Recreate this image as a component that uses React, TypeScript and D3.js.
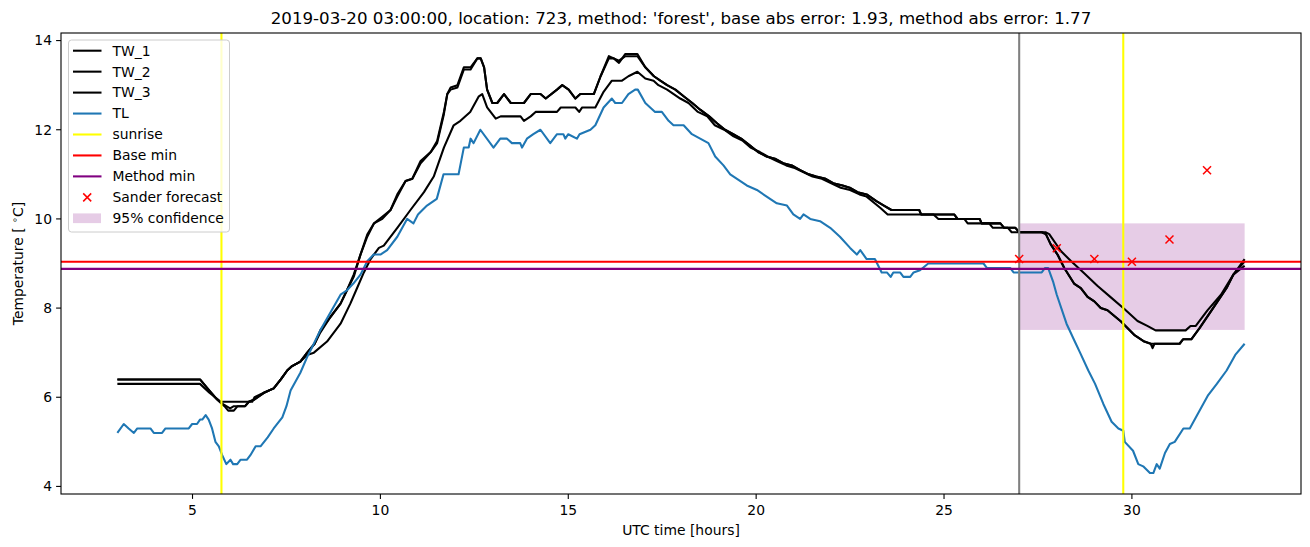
import React from 'react';
import * as d3 from 'd3';

type P = [number, number];

const TW_1: P[] = [[3.0,6.4],[5.2,6.4],[5.45,6.15],[5.65,5.95],[5.85,5.8],[5.95,5.7],[6.1,5.7],[6.2,5.8],[6.4,5.8],[6.5,5.9],[6.65,5.95],[6.9,6.1],[7.16,6.2],[7.35,6.4],[7.52,6.6],[7.65,6.7],[7.87,6.8],[8.05,7.0],[8.25,7.2],[8.4,7.5],[8.67,7.8],[8.94,8.1],[9.11,8.4],[9.29,8.75],[9.47,9.2],[9.65,9.65],[9.83,9.9],[10.05,10.05],[10.27,10.2],[10.45,10.55],[10.67,10.85],[10.85,10.9],[11.07,11.3],[11.34,11.5],[11.51,11.75],[11.69,12.4],[11.78,12.8],[11.87,12.95],[12.05,13.0],[12.22,13.4],[12.4,13.4],[12.58,13.6],[12.67,13.6],[12.76,13.4],[12.84,12.9],[12.98,12.6],[13.11,12.6],[13.29,12.8],[13.47,12.6],[13.82,12.6],[14.0,12.8],[14.26,12.8],[14.4,12.7],[14.7,12.9],[14.84,13.0],[15.01,12.9],[15.19,12.7],[15.32,12.8],[15.68,12.8],[15.86,13.2],[16.08,13.65],[16.21,13.6],[16.35,13.5],[16.52,13.7],[16.84,13.7],[17.05,13.4],[17.28,13.2],[17.45,13.1],[17.63,13.0],[17.85,12.9],[18.07,12.75],[18.3,12.6],[18.51,12.45],[18.75,12.3],[18.95,12.15],[19.17,12.0],[19.39,11.9],[19.6,11.8],[19.83,11.65],[20.05,11.5],[20.28,11.4],[20.5,11.35],[20.72,11.25],[20.95,11.2],[21.16,11.1],[21.4,11.0],[21.6,10.95],[21.85,10.9],[22.05,10.8],[22.3,10.75],[22.49,10.7],[22.7,10.6],[22.94,10.55],[23.2,10.4],[23.4,10.3],[23.6,10.2],[24.34,10.2],[24.39,10.1],[25.27,10.1],[25.36,10.0],[25.95,10.0],[26.0,9.9],[26.5,9.9],[26.6,9.8],[26.9,9.8],[27.0,9.7],[27.6,9.7],[27.71,9.66],[27.84,9.43],[28.02,9.2],[28.2,8.9],[28.46,8.55],[28.64,8.45],[28.82,8.25],[29.0,8.15],[29.17,8.0],[29.35,7.95],[29.71,7.7],[30.06,7.4],[30.33,7.25],[30.5,7.2],[30.55,7.1],[30.6,7.2],[31.27,7.2],[31.36,7.3],[31.58,7.3],[31.8,7.55],[32.16,8.0],[32.52,8.45],[32.7,8.75],[33.0,9.1]];

const TW_2: P[] = [[3.0,6.4],[5.2,6.4],[5.4,6.2],[5.6,6.0],[5.8,5.85],[5.9,5.8],[6.0,5.75],[6.1,5.8],[6.4,5.8],[6.5,5.9],[6.65,5.95],[6.9,6.1],[7.16,6.2],[7.35,6.4],[7.52,6.6],[7.65,6.7],[7.87,6.8],[8.05,7.0],[8.25,7.2],[8.4,7.45],[8.67,7.8],[8.94,8.1],[9.11,8.4],[9.29,8.7],[9.47,9.2],[9.65,9.6],[9.83,9.9],[10.05,10.0],[10.27,10.2],[10.45,10.5],[10.67,10.85],[10.85,10.9],[11.07,11.25],[11.34,11.5],[11.51,11.7],[11.69,12.35],[11.78,12.8],[11.87,12.9],[12.05,12.95],[12.22,13.35],[12.4,13.35],[12.58,13.6],[12.67,13.6],[12.76,13.4],[12.84,12.9],[12.98,12.6],[13.11,12.6],[13.29,12.8],[13.47,12.6],[13.82,12.6],[14.0,12.8],[14.26,12.8],[14.4,12.7],[14.7,12.9],[14.84,13.0],[15.01,12.9],[15.19,12.7],[15.32,12.8],[15.68,12.8],[15.86,13.2],[16.08,13.6],[16.21,13.6],[16.35,13.55],[16.52,13.65],[16.84,13.65],[17.05,13.4],[17.28,13.2],[17.45,13.1],[17.63,13.0],[17.85,12.9],[18.07,12.75],[18.3,12.6],[18.51,12.45],[18.75,12.3],[18.95,12.15],[19.17,12.0],[19.39,11.9],[19.6,11.8],[19.83,11.65],[20.05,11.5],[20.28,11.4],[20.5,11.35],[20.72,11.25],[20.95,11.2],[21.16,11.1],[21.4,11.0],[21.6,10.95],[21.85,10.9],[22.05,10.8],[22.3,10.75],[22.49,10.7],[22.7,10.6],[22.94,10.55],[23.2,10.4],[23.4,10.3],[23.6,10.2],[24.34,10.2],[24.39,10.1],[25.27,10.1],[25.36,10.0],[25.95,10.0],[26.0,9.9],[26.5,9.9],[26.6,9.8],[26.9,9.8],[27.0,9.7],[27.6,9.7],[27.71,9.66],[27.84,9.43],[28.02,9.2],[28.2,8.9],[28.46,8.55],[28.64,8.45],[28.82,8.25],[29.0,8.15],[29.17,8.0],[29.35,7.95],[29.71,7.7],[30.06,7.4],[30.33,7.25],[30.5,7.2],[31.27,7.2],[31.36,7.3],[31.58,7.3],[31.8,7.55],[32.16,8.0],[32.52,8.45],[32.7,8.75],[33.0,9.05]];

const TW_3: P[] = [[3.0,6.3],[5.2,6.3],[5.45,6.1],[5.75,5.9],[6.59,5.9],[6.65,6.0],[6.9,6.1],[7.16,6.2],[7.35,6.4],[7.52,6.6],[7.65,6.7],[7.87,6.8],[8.05,6.95],[8.23,7.0],[8.58,7.25],[8.94,7.65],[9.2,8.1],[9.38,8.45],[9.56,8.8],[9.74,9.1],[9.96,9.35],[10.09,9.4],[10.45,9.8],[10.8,10.2],[11.16,10.6],[11.42,10.95],[11.69,11.6],[11.95,12.1],[12.13,12.2],[12.39,12.4],[12.62,12.75],[12.71,12.8],[12.84,12.5],[13.07,12.25],[13.2,12.3],[13.73,12.3],[13.82,12.2],[14.0,12.3],[14.13,12.4],[14.7,12.4],[14.8,12.5],[15.19,12.5],[15.29,12.4],[15.37,12.5],[15.72,12.5],[15.94,12.85],[16.16,13.1],[16.43,13.1],[16.6,13.2],[16.84,13.3],[17.05,13.15],[17.27,13.1],[17.4,13.0],[17.63,12.9],[17.98,12.7],[18.2,12.6],[18.45,12.4],[18.7,12.3],[18.9,12.1],[19.15,12.0],[19.4,11.85],[19.65,11.75],[19.85,11.6],[20.1,11.5],[20.3,11.4],[20.55,11.3],[20.8,11.2],[21.0,11.15],[21.25,11.05],[21.5,10.95],[21.75,10.9],[22.0,10.8],[22.25,10.7],[22.5,10.65],[22.75,10.55],[22.94,10.5],[23.3,10.25],[23.5,10.1],[24.72,10.1],[24.85,10.0],[25.54,10.0],[25.63,9.9],[26.2,9.9],[26.3,9.8],[26.7,9.8],[26.8,9.7],[27.7,9.7],[27.8,9.66],[28.11,9.28],[28.37,9.06],[28.73,8.78],[29.08,8.5],[29.44,8.24],[29.8,7.98],[30.15,7.71],[30.41,7.6],[30.63,7.5],[31.43,7.5],[31.56,7.6],[31.7,7.6],[32.01,7.95],[32.37,8.3],[32.7,8.75],[33.0,8.95]];

const TL: P[] = [[3.0,5.2],[3.17,5.4],[3.3,5.3],[3.44,5.2],[3.53,5.3],[3.88,5.3],[3.97,5.2],[4.19,5.2],[4.28,5.3],[4.9,5.3],[4.99,5.4],[5.12,5.4],[5.2,5.5],[5.26,5.5],[5.35,5.6],[5.43,5.5],[5.52,5.3],[5.61,5.0],[5.7,4.9],[5.79,4.7],[5.9,4.5],[6.01,4.6],[6.08,4.5],[6.19,4.5],[6.28,4.6],[6.45,4.6],[6.54,4.7],[6.68,4.9],[6.81,4.9],[7.0,5.1],[7.16,5.3],[7.39,5.55],[7.5,5.8],[7.61,6.15],[7.87,6.55],[8.05,6.9],[8.14,7.05],[8.4,7.5],[8.67,7.9],[8.94,8.3],[9.11,8.4],[9.28,8.55],[9.47,8.75],[9.65,9.05],[9.82,9.2],[10.0,9.2],[10.18,9.3],[10.45,9.6],[10.71,10.0],[10.88,9.9],[11.0,10.1],[11.24,10.3],[11.5,10.45],[11.68,11.0],[12.08,11.0],[12.22,11.6],[12.35,11.6],[12.4,11.8],[12.48,11.7],[12.66,12.0],[13.01,11.6],[13.19,11.8],[13.37,11.8],[13.5,11.7],[13.72,11.7],[13.77,11.6],[13.9,11.8],[14.07,11.9],[14.26,12.0],[14.52,11.7],[14.7,11.9],[14.87,11.9],[14.92,11.8],[15.0,11.9],[15.23,11.8],[15.3,11.9],[15.59,12.0],[15.72,12.1],[15.94,12.5],[16.16,12.7],[16.25,12.6],[16.43,12.6],[16.6,12.8],[16.78,12.9],[16.85,12.9],[17.05,12.6],[17.31,12.4],[17.49,12.4],[17.67,12.2],[17.8,12.1],[18.07,12.1],[18.29,11.9],[18.51,11.8],[18.73,11.7],[18.91,11.4],[19.13,11.2],[19.31,11.0],[19.49,10.9],[19.75,10.75],[20.02,10.65],[20.28,10.5],[20.55,10.35],[20.82,10.3],[20.99,10.1],[21.17,10.0],[21.26,10.1],[21.44,10.0],[21.7,9.95],[21.97,9.8],[22.23,9.6],[22.5,9.35],[22.68,9.2],[22.77,9.3],[22.94,9.1],[23.16,9.1],[23.34,8.8],[23.48,8.8],[23.58,8.7],[23.65,8.8],[23.83,8.8],[23.92,8.7],[24.1,8.7],[24.19,8.8],[24.36,8.85],[24.58,9.0],[26.05,9.0],[26.14,8.9],[26.76,8.9],[26.85,8.8],[27.6,8.8],[27.69,8.9],[27.77,8.9],[27.9,8.6],[28.0,8.3],[28.26,7.65],[28.48,7.25],[28.62,7.0],[28.84,6.6],[29.02,6.3],[29.24,5.85],[29.46,5.45],[29.64,5.3],[29.77,5.25],[29.81,5.0],[30.03,4.8],[30.17,4.5],[30.3,4.45],[30.48,4.3],[30.57,4.3],[30.66,4.5],[30.74,4.4],[30.88,4.75],[31.01,4.95],[31.14,5.0],[31.37,5.3],[31.54,5.3],[31.77,5.65],[32.03,6.05],[32.26,6.3],[32.52,6.6],[32.75,6.95],[33.0,7.2]];

const SUNRISE: number[] = [5.77, 29.77];
const FORECAST_START = 27.0;
const BASE_MIN = 9.04;
const METHOD_MIN = 8.88;
const FORECAST_T: number[] = [27, 28, 29, 30, 31, 32];
const FORECAST_V: number[] = [9.1, 9.34, 9.1, 9.04, 9.54, 11.09];
const CONF_T: number[] = [27, 33];
const CONF_LO = 7.51;
const CONF_HI = 9.9;
const X_TICKS: number[] = [5, 10, 15, 20, 25, 30];
const Y_TICKS: number[] = [4, 6, 8, 10, 12, 14];
const TITLE = "2019-03-20 03:00:00, location: 723, method: 'forest', base abs error: 1.93, method abs error: 1.77";

const W = 1310, H = 547;
const L = 61, R = 1301, T = 33, B = 494;
const FONT = 'DejaVu Sans, sans-serif';

export default function App() {
  const x = d3.scaleLinear().domain([1.5, 34.5]).range([L, R]);
  const y = d3.scaleLinear().domain([3.83, 14.17]).range([B, T]);
  const line = d3.line<P>().x(d => x(d[0])).y(d => y(d[1]));
  const lw = 2.08;

  const legendItems = [
    { label: 'TW_1', kind: 'line', color: '#000000' },
    { label: 'TW_2', kind: 'line', color: '#000000' },
    { label: 'TW_3', kind: 'line', color: '#000000' },
    { label: 'TL', kind: 'line', color: '#1f77b4' },
    { label: 'sunrise', kind: 'line', color: '#ffff00' },
    { label: 'Base min', kind: 'line', color: '#ff0000' },
    { label: 'Method min', kind: 'line', color: '#800080' },
    { label: 'Sander forecast', kind: 'x', color: '#ff0000' },
    { label: '95% confidence', kind: 'patch', color: 'rgba(128,0,128,0.2)' },
  ];

  const xMark = (cx: number, cy: number, k: string) => (
    <g key={k}>
      <line x1={cx - 4} y1={cy - 4} x2={cx + 4} y2={cy + 4} stroke="#ff0000" strokeWidth={1.5} />
      <line x1={cx - 4} y1={cy + 4} x2={cx + 4} y2={cy - 4} stroke="#ff0000" strokeWidth={1.5} />
    </g>
  );

  return (
    <svg width={W} height={H} style={{ position: 'absolute', left: 0, top: 0, background: '#fff' }} fontFamily={FONT}>
      <rect x={0} y={0} width={W} height={H} fill="#ffffff" />
      <defs>
        <clipPath id="plot"><rect x={L} y={T} width={R - L} height={B - T} /></clipPath>
      </defs>
      <g clipPath="url(#plot)">
        <rect x={x(CONF_T[0])} y={y(CONF_HI)} width={x(CONF_T[1]) - x(CONF_T[0])} height={y(CONF_LO) - y(CONF_HI)} fill="rgba(128,0,128,0.2)" />
        {[TW_1, TW_2, TW_3].map((s, i) => (
          <path key={i} d={line(s) || ''} fill="none" stroke="#000" strokeWidth={lw} strokeLinejoin="round" />
        ))}
        <path d={line(TL) || ''} fill="none" stroke="#1f77b4" strokeWidth={lw} strokeLinejoin="round" />
        {SUNRISE.map((t, i) => (
          <line key={i} x1={x(t)} x2={x(t)} y1={T} y2={B} stroke="#ffff00" strokeWidth={lw} />
        ))}
        <line x1={x(FORECAST_START)} x2={x(FORECAST_START)} y1={T} y2={B} stroke="#808080" strokeWidth={lw} />
        <line x1={L} x2={R} y1={y(BASE_MIN)} y2={y(BASE_MIN)} stroke="#ff0000" strokeWidth={lw} />
        <line x1={L} x2={R} y1={y(METHOD_MIN)} y2={y(METHOD_MIN)} stroke="#800080" strokeWidth={lw} />
        {FORECAST_T.map((t, i) => xMark(x(t), y(FORECAST_V[i]), 'f' + i))}
      </g>

      {/* axes frame */}
      <rect x={L} y={T} width={R - L} height={B - T} fill="none" stroke="#000" strokeWidth={1.1} />

      {X_TICKS.map(t => (
        <g key={'x' + t}>
          <line x1={x(t)} x2={x(t)} y1={B} y2={B + 4.9} stroke="#000" strokeWidth={1.1} />
          <text x={x(t)} y={B + 20.5} textAnchor="middle" fontSize={13.9} fill="#000">{t}</text>
        </g>
      ))}
      {Y_TICKS.map(t => (
        <g key={'y' + t}>
          <line x1={L - 4.9} x2={L} y1={y(t)} y2={y(t)} stroke="#000" strokeWidth={1.1} />
          <text x={L - 9} y={y(t)} dy="0.35em" textAnchor="end" fontSize={13.9} fill="#000">{t}</text>
        </g>
      ))}

      <text x={(L + R) / 2} y={535} textAnchor="middle" fontSize={13.9} fill="#000">UTC time [hours]</text>
      <text transform={`translate(23, ${(T + B) / 2}) rotate(-90)`} textAnchor="middle" fontSize={13.9} fill="#000">
        Temperature [ <tspan fontSize={9.7} dy={-5}>∘</tspan><tspan dy={5}>C]</tspan>
      </text>
      <text x={(L + R) / 2} y={24} textAnchor="middle" fontSize={16.67} fill="#000">{TITLE}</text>

      {/* legend */}
      <g>
        <rect x={68.5} y={40} width={161} height={192} rx={3} ry={3} fill="rgba(255,255,255,0.8)" stroke="#cccccc" strokeWidth={1} />
        {legendItems.map((it, i) => {
          const cy = 50.7 + i * 20.95;
          return (
            <g key={it.label}>
              {it.kind === 'line' && <line x1={73} x2={101.5} y1={cy} y2={cy} stroke={it.color} strokeWidth={lw} />}
              {it.kind === 'x' && xMark(87.2, cy, 'lx')}
              {it.kind === 'patch' && <rect x={73} y={cy - 4.9} width={28} height={9.7} fill={it.color} />}
              <text x={112.5} y={cy} dy="0.35em" fontSize={13.9} fill="#000">{it.label}</text>
            </g>
          );
        })}
      </g>
    </svg>
  );
}
